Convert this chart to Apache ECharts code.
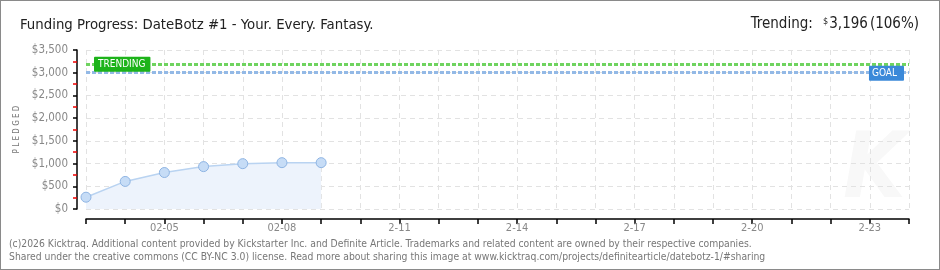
<!DOCTYPE html>
<html><head><meta charset="utf-8">
<script src="https://cdn.jsdelivr.net/npm/echarts@6/dist/echarts.min.js"></script>
<style>html,body{margin:0;padding:0;background:#fff}#c{width:940px;height:270px;box-sizing:border-box;border:1px solid #8a8a8a}</style>
</head><body><div id="c"></div>
<script>
const titleText = 'Funding Progress: DateBotz #1 - Your. Every. Fantasy.';
const trendingAmount = '3,196';
const trendingPct = '(106%)';
const dates = ['02-03','02-04','02-05','02-06','02-07','02-08','02-09','02-10','02-11','02-12','02-13','02-14','02-15','02-16','02-17','02-18','02-19','02-20','02-21','02-22','02-23','02-24'];
const pledged = [260, 607, 803, 933, 998, 1020, 1020];
const xTickLabels = {'02-05':'02-05','02-08':'02-08','02-11':'2-11','02-14':'2-14','02-17':'2-17','02-20':'2-20','02-23':'2-23'};
const goal = 3000;
const trending = 3196;
const yMax = 3500, yStep = 500;
const footer1 = '(c)2026 Kicktraq. Additional content provided by Kickstarter Inc. and Definite Article. Trademarks and related content are owned by their respective companies.';
const footer2 = 'Shared under the creative commons (CC BY-NC 3.0) license. Read more about sharing this image at www.kicktraq.com/projects/definitearticle/datebotz-1/#sharing';

const FONT = '"DejaVu Sans Condensed", "DejaVu Sans", sans-serif';
const chart = echarts.init(document.getElementById('c'));
const fmt = v => '$' + v.toLocaleString('en-US');
chart.setOption({
  animation: false,
  textStyle: {fontFamily: FONT},
  title: [
    {text: titleText, left: 14, top: 12, textStyle: {fontFamily: FONT, fontSize: 14.8, fontWeight: 'normal', color: '#222'}},
    {text: '{l|Trending: }{s|$}{v|' + trendingAmount + '}{p|' + trendingPct + '}', right: 15, top: 11,
     textStyle: {fontWeight: 'normal', rich: {
       l: {fontFamily: FONT, fontSize: 15, color: '#222', fontWeight: 'normal', padding: [0,6,0,0]},
       s: {fontFamily: FONT, fontSize: 9, color: '#222', fontWeight: 'normal', verticalAlign: 'top', padding: [0,1,6,0]},
       v: {fontFamily: FONT, fontSize: 15, color: '#222', fontWeight: 'normal', padding: [0,2,0,0]},
       p: {fontFamily: FONT, fontSize: 15, color: '#222', fontWeight: 'normal'}
     }}}
  ],
  grid: {left: 85, right: 30, top: 49, bottom: 60, containLabel: false},
  xAxis: {
    type: 'category', data: dates, boundaryGap: false, offset: 10,
    axisLine: {onZero: false, lineStyle: {color: '#000', width: 1.5}},
    axisTick: {show: true, interval: 0, length: 5, lineStyle: {color: '#000', width: 1.5}},
    axisLabel: {interval: (i) => (i - 2) % 3 === 0 && i >= 2, formatter: v => xTickLabels[v] || '',
      color: '#888', fontSize: 11, fontFamily: FONT, margin: 4},
    splitLine: {show: true, interval: 0, lineStyle: {color: '#e2e2e2', type: [5,4]}}
  },
  yAxis: {
    type: 'value', min: 0, max: yMax, interval: yStep, offset: 9,
    name: 'P L E D G E D', nameLocation: 'middle', nameGap: 52, nameRotate: 90,
    nameTextStyle: {color: '#777', fontSize: 8, fontFamily: FONT},
    axisLine: {show: true, lineStyle: {color: '#000', width: 1.5}},
    axisTick: {show: true, length: 4, lineStyle: {color: '#000', width: 1.5}},
    minorTick: {show: true, splitNumber: 2, length: 4, lineStyle: {color: '#e00', width: 1.5}},
    axisLabel: {formatter: fmt, color: '#888', fontSize: 11.5, fontFamily: FONT, margin: 9},
    splitLine: {show: true, lineStyle: {color: '#e2e2e2', type: [5,4]}}
  },
  series: [{
    type: 'line', data: pledged, symbol: 'circle', symbolSize: 10,
    itemStyle: {color: '#c6dcf6', borderColor: '#8eb4e3', borderWidth: 1},
    lineStyle: {color: '#b9d3f1', width: 1.5},
    areaStyle: {color: '#edf3fc', opacity: 1},
    markLine: {
      silent: true, symbol: 'none',
      data: [
        {yAxis: trending, lineStyle: {color: '#6fd35f', type: [4,2], width: 3},
         label: {show: true, position: 'insideStartTop', formatter: 'TRENDING', distance: [8, -8],
           color: '#fff', backgroundColor: '#1db31a', fontSize: 10, fontFamily: FONT, padding: [3,5,2,4], borderRadius: 1}},
        {yAxis: goal, lineStyle: {color: '#93b9e6', type: [4,2], width: 3},
         label: {show: true, position: 'insideEndTop', formatter: 'GOAL', distance: [5, -8],
           color: '#fff', backgroundColor: '#3b89d9', fontSize: 10, fontFamily: FONT, padding: [3,7,2,3], borderRadius: 1}}
      ]
    }
  }],
  graphic: [
    {type: 'text', left: 842, top: 128, z: -1, style: {text: 'K', fill: '#f8f8f8', font: 'italic bold 90px ' + FONT}},
    {type: 'text', left: 8, top: 238, style: {text: footer1, fill: '#777', font: '10.3px ' + FONT}},
    {type: 'text', left: 8, top: 251, style: {text: footer2, fill: '#777', font: '10.3px ' + FONT}}
  ]
});
</script></body></html>
